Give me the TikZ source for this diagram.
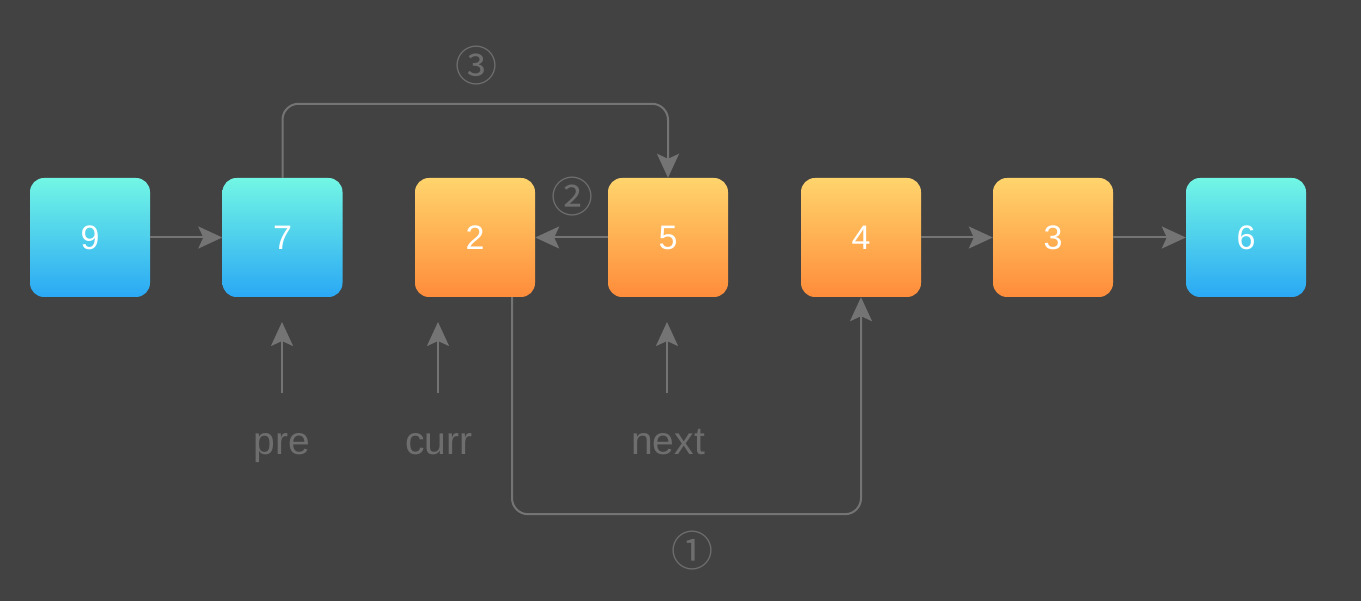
\documentclass[tikz,border=0pt]{standalone}
\usepackage{fontspec}
\setmainfont{Liberation Sans}
\newfontfamily\symfont{Noto Sans CJK SC}
\usetikzlibrary{arrows.meta}
\definecolor{bg}{HTML}{424242}
\definecolor{linegray}{HTML}{747474}
\definecolor{labelgray}{HTML}{6E6E6E}
\definecolor{cyantop}{HTML}{72F6E4}
\definecolor{cyanbot}{HTML}{2AA8F5}
\definecolor{orgtop}{HTML}{FFD46C}
\definecolor{orgbot}{HTML}{FF8C3A}
\tikzset{
  listnode/.style={minimum width=120pt, minimum height=119pt, rounded corners=14pt,
    inner sep=0pt, text=white, font=\fontsize{34}{34}\selectfont},
  bluenode/.style={listnode, top color=cyantop, bottom color=cyanbot},
  orangenode/.style={listnode, top color=orgtop, bottom color=orgbot},
  arr/.style={draw=linegray, line width=2pt, -{Stealth[length=24pt,width=22pt,inset=5pt]}},
  ptrlabel/.style={text=labelgray, font=\fontsize{39}{39}\selectfont, inner sep=0pt, anchor=base},
  steplabel/.style={text=labelgray, font=\symfont\fontsize{42}{42}\selectfont, inner sep=0pt}
}
\begin{document}
\begin{tikzpicture}[x=1pt,y=-1pt]
\fill[bg] (0,0) rectangle (1361,601);
\useasboundingbox (0,0) rectangle (1361,601);

\node[bluenode]   (n9) at (90,237.5)   {9};
\node[bluenode]   (n7) at (282.5,237.5){7};
\node[orangenode] (n2) at (475,237.5)  {2};
\node[orangenode] (n5) at (668,237.5)  {5};
\node[orangenode] (n4) at (861,237.5)  {4};
\node[orangenode] (n3) at (1053,237.5) {3};
\node[bluenode]   (n6) at (1246,237.5) {6};

\draw[arr] (n9) -- (n7);
\draw[arr] (n5) -- (n2);
\draw[arr] (n4) -- (n3);
\draw[arr] (n3) -- (n6);

\draw[arr, rounded corners=16pt] (n7.north) -- ++(0,-74) -| (n5.north);
\draw[arr, rounded corners=16pt] ([xshift=37pt]n2.south) -- ++(0,217) -| (n4.south);

\node[steplabel] (s3) at (476,66) {③};
\node[steplabel] (s2) at (572,197) {②};
\node[steplabel] (s1) at (692,551) {①};

\node[ptrlabel] (pre)  at (282,455) {pre};
\node[ptrlabel] (curr) at (439,455) {curr};
\node[ptrlabel] (next) at (668,455) {next};
\coordinate (preB) at (282,393);  \coordinate (preT) at (282,322);
\coordinate (curB) at (438,393);  \coordinate (curT) at (438,322);
\coordinate (nexB) at (667,393);  \coordinate (nexT) at (667,322);
\draw[arr] (preB) -- (preT);
\draw[arr] (curB) -- (curT);
\draw[arr] (nexB) -- (nexT);
\end{tikzpicture}
\end{document}
